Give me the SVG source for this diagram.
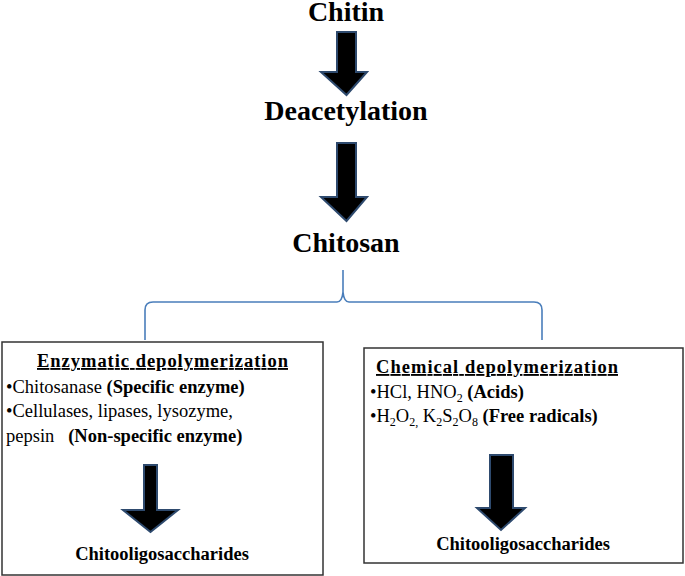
<svg xmlns="http://www.w3.org/2000/svg" width="685" height="576" viewBox="0 0 685 576">
<style>
.arrow{fill:#000;stroke:#2e4a6e;stroke-width:2;stroke-linejoin:miter}
.box{fill:#fff;stroke:#333;stroke-width:1.5}
.brace{fill:none;stroke:#4a7ebb;stroke-width:1.6}
</style>
<rect width="685" height="576" fill="#fff"/>
<g id="chitin"><text font-family="Liberation Serif" font-size="28" font-weight="bold" x="346" y="21" text-anchor="middle">Chitin</text></g>
<g id="deacetylation"><text font-family="Liberation Serif" font-size="28" font-weight="bold" x="346" y="120" text-anchor="middle">Deacetylation</text></g>
<g id="chitosan"><text font-family="Liberation Serif" font-size="28" font-weight="bold" x="346" y="252" text-anchor="middle">Chitosan</text></g>
<g id="enzymatic">
<rect class="box" x="2" y="342" width="321" height="233"/>
<text font-family="Liberation Serif" font-size="18.5" font-weight="bold" x="37" y="367" text-decoration="underline" textLength="251" lengthAdjust="spacing">Enzymatic depolymerization</text>
<text font-family="Liberation Serif" font-size="18.5" x="6" y="393">•Chitosanase <tspan font-weight="bold">(Specific enzyme)</tspan></text>
<text font-family="Liberation Serif" font-size="18.5" x="6" y="417">•Cellulases, lipases, lysozyme,</text>
<text font-family="Liberation Serif" font-size="18.5" x="6" y="442" xml:space="preserve">pepsin   <tspan font-weight="bold">(Non-specific enzyme)</tspan></text>
<text font-family="Liberation Serif" font-size="18.5" font-weight="bold" x="162" y="560" text-anchor="middle">Chitooligosaccharides</text>
</g>
<g id="chemical">
<rect class="box" x="364" y="348" width="319" height="215"/>
<text font-family="Liberation Serif" font-size="18.5" font-weight="bold" x="376" y="373" text-decoration="underline" textLength="242" lengthAdjust="spacing">Chemical depolymerization</text>
<text font-family="Liberation Serif" font-size="18.5" x="370" y="398">•HCl, HNO<tspan font-size="12" dy="4">2</tspan><tspan dy="-4"> </tspan><tspan font-weight="bold">(Acids)</tspan></text>
<text font-family="Liberation Serif" font-size="18.5" x="370" y="422">•H<tspan font-size="12" dy="4">2</tspan><tspan dy="-4">O</tspan><tspan font-size="12" dy="4">2,</tspan><tspan dy="-4"> K</tspan><tspan font-size="12" dy="4">2</tspan><tspan dy="-4">S</tspan><tspan font-size="12" dy="4">2</tspan><tspan dy="-4">O</tspan><tspan font-size="12" dy="4">8</tspan><tspan dy="-4"> </tspan><tspan font-weight="bold">(Free radicals)</tspan></text>
<text font-family="Liberation Serif" font-size="18.5" font-weight="bold" x="523" y="550" text-anchor="middle">Chitooligosaccharides</text>
</g>
<g id="connectors">
<path class="arrow" d="M337,32 H356 V72 H367 L346.5,95 L321,72 H337 Z"/>
<path class="arrow" d="M337,143 H356 V197 H367 L346.5,221 L321,197 H337 Z"/>
<path class="arrow" d="M144,465 H157 V510 H178 L150.5,532 L123,510 H144 Z"/>
<path class="arrow" d="M490,455 H513 V508 H525 L501,530 L477,508 H490 Z"/>
<path class="brace" d="M145,340 V310 Q145,302 153,302 H337 Q342,302 343,292 V270 M343,292 Q344,302 349,302 H534 Q542,302 542,310 V340"/>
</g>
</svg>
